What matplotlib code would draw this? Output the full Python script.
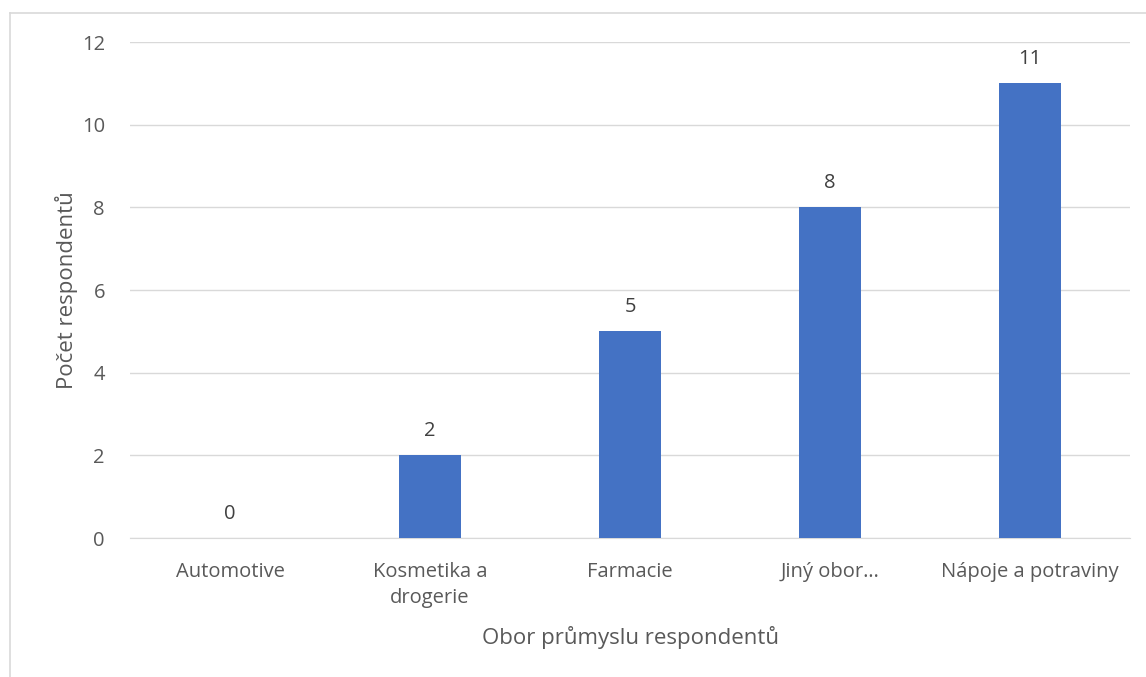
import matplotlib.pyplot as plt
from matplotlib.lines import Line2D

# Data
categories = ['Automotive', 'Kosmetika a\ndrogerie', 'Farmacie', 'Jiný obor…', 'Nápoje a potraviny']
counts = [0, 2, 5, 8, 11]
y_ticks = [0, 2, 4, 6, 8, 10, 12]

plt.rcParams['font.family'] = ['Open Sans', 'DejaVu Sans']

fig = plt.figure(figsize=(11.46, 6.77), dpi=100, facecolor='white')
ax = fig.add_axes([130 / 1146, 1 - 538 / 677, 1000 / 1146, 496 / 677])

x = range(len(categories))
ax.bar(x, counts, width=0.31, color='#4472C4', zorder=3)
for xi, v in zip(x, counts):
    ax.text(xi, v + 0.35, str(v), ha='center', va='bottom', fontsize=14.5, color='#404040')

ax.set_xlim(-0.5, len(categories) - 0.5)
ax.set_ylim(0, 12)
ax.set_yticks(y_ticks)
ax.set_xticks(list(x))
ax.set_xticklabels(categories, fontsize=14.5, color='#595959', va='top', linespacing=1.4)
ax.tick_params(axis='y', labelsize=14.5, labelcolor='#595959', length=0, pad=18)
ax.tick_params(axis='x', length=0, pad=17)
ax.grid(axis='y', color='#D9D9D9', linewidth=1, zorder=0)
for s in ['top', 'right', 'left']:
    ax.spines[s].set_visible(False)
ax.spines['bottom'].set_color('#D9D9D9')

ax.set_xlabel('Obor průmyslu respondentů', fontsize=16, color='#595959', labelpad=13)
ax.set_ylabel('Počet respondentů', fontsize=16, color='#595959', labelpad=3)

# chart-area border (top and left edges visible)
fig.add_artist(Line2D([9.5 / 1146, 1], [1 - 13 / 677, 1 - 13 / 677], color='#D9D9D9', lw=1.2))
fig.add_artist(Line2D([9.5 / 1146, 9.5 / 1146], [0, 1 - 13 / 677], color='#D9D9D9', lw=1.2))

fig.savefig('out.png', dpi=100, facecolor='white')
